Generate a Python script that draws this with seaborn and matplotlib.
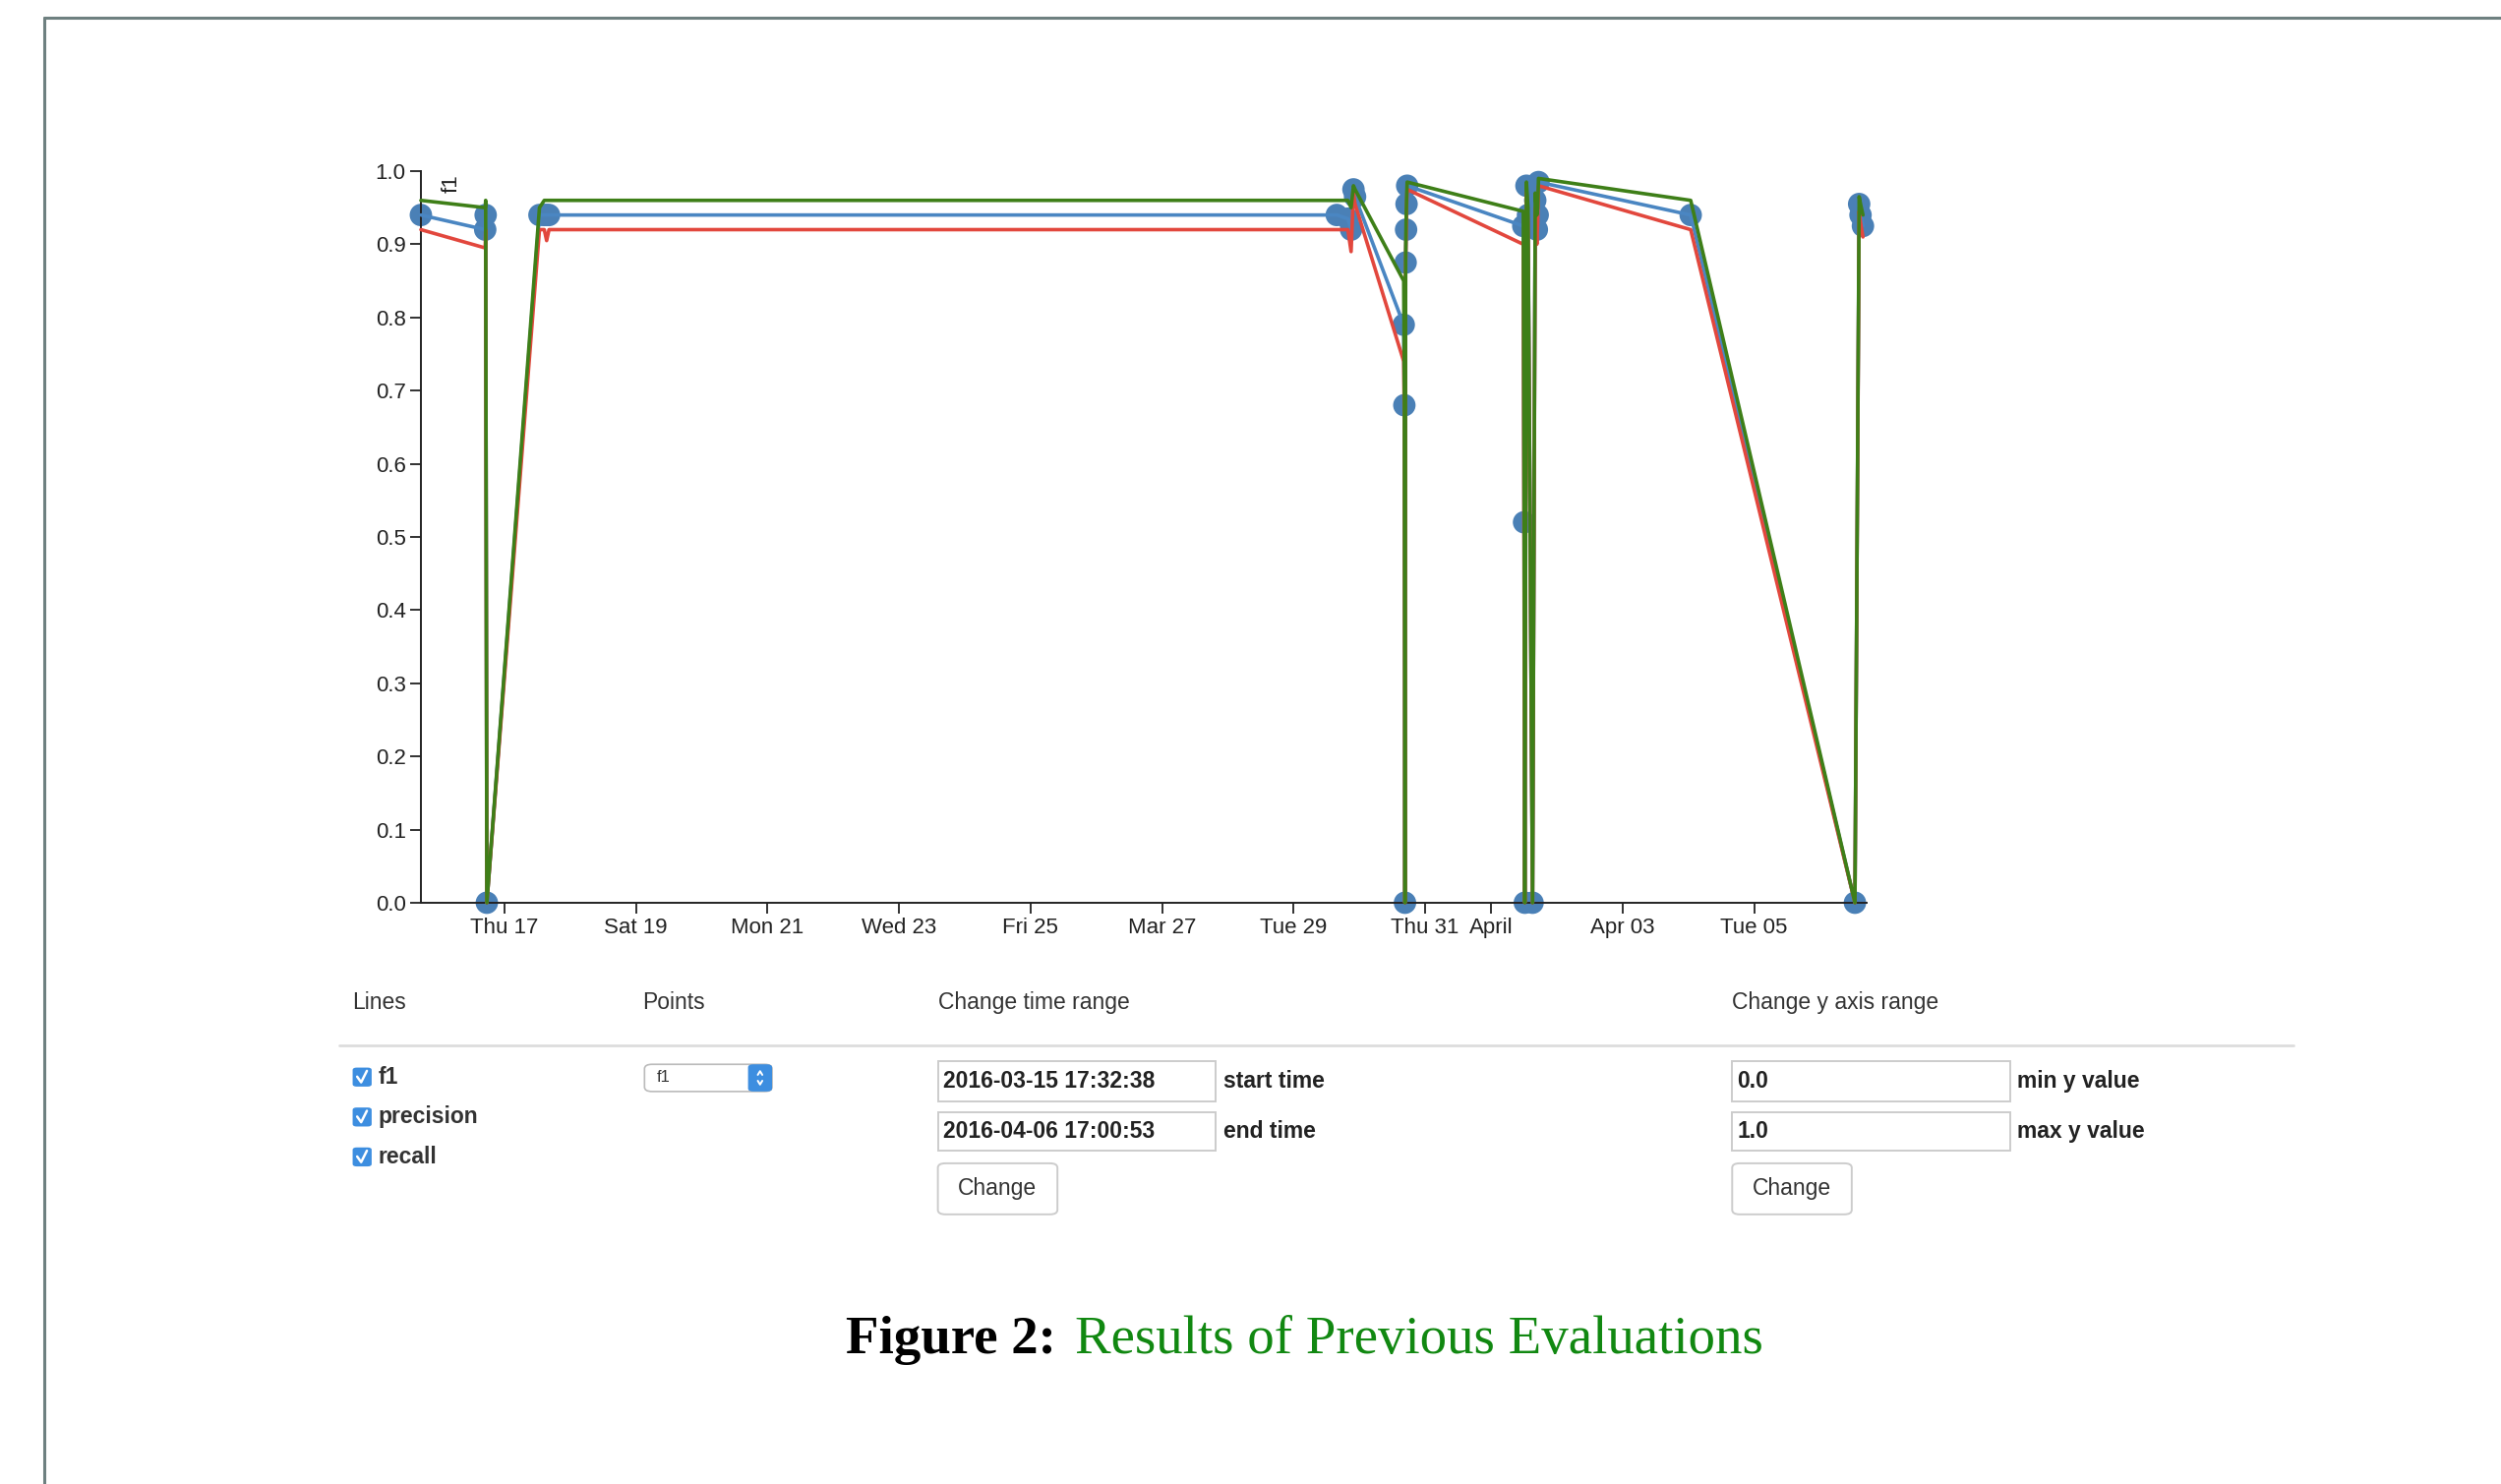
import matplotlib
matplotlib.use("Agg")
import matplotlib.pyplot as plt
from matplotlib.patches import FancyBboxPatch, Rectangle
from matplotlib.lines import Line2D
import numpy as np
import pandas as pd
import seaborn as sns

# evaluation runs
times = ["2016-03-15 17:32", "2016-03-16 17:00", "2016-03-16 17:10", "2016-03-16 17:36",
         "2016-03-17 12:48", "2016-03-17 14:33", "2016-03-17 15:25", "2016-03-17 16:17",
         "2016-03-29 15:43", "2016-03-29 19:47", "2016-03-29 20:57", "2016-03-29 21:49",
         "2016-03-29 22:24", "2016-03-30 16:09", "2016-03-30 16:23", "2016-03-30 16:37",
         "2016-03-30 16:51", "2016-03-30 17:01", "2016-03-30 17:11", "2016-03-30 17:25",
         "2016-04-01 11:47", "2016-04-01 12:04", "2016-04-01 12:21", "2016-04-01 12:56",
         "2016-04-01 13:30", "2016-04-01 15:10", "2016-04-01 16:09", "2016-04-01 16:44",
         "2016-04-01 17:02", "2016-04-01 17:20", "2016-04-04 00:52", "2016-04-06 12:48",
         "2016-04-06 14:20", "2016-04-06 14:50", "2016-04-06 15:43"]
f1 = [0.94, 0.92, 0.94, 0.0, 0.94, 0.94, 0.94, 0.94,
      0.94, 0.935, 0.92, 0.975, 0.965, 0.79, 0.68, 0.0,
      0.875, 0.92, 0.955, 0.98, 0.925, 0.52, 0.0, 0.98,
      0.94, 0.0, 0.96, 0.92, 0.94, 0.985, 0.94, 0.0,
      0.955, 0.94, 0.925]
precision = [0.96, 0.95, 0.96, 0.0, 0.95, 0.96, 0.96, 0.96,
             0.96, 0.96, 0.95, 0.98, 0.975, 0.85, 0.70, 0.0,
             0.88, 0.93, 0.96, 0.985, 0.945, 0.60, 0.0, 0.985,
             0.95, 0.0, 0.97, 0.94, 0.95, 0.99, 0.96, 0.0,
             0.965, 0.955, 0.94]
recall = [0.92, 0.895, 0.92, 0.0, 0.92, 0.92, 0.905, 0.92,
          0.92, 0.92, 0.89, 0.97, 0.955, 0.74, 0.66, 0.0,
          0.87, 0.91, 0.95, 0.975, 0.90, 0.45, 0.0, 0.975,
          0.93, 0.0, 0.95, 0.90, 0.93, 0.98, 0.92, 0.0,
          0.945, 0.93, 0.91]

tick_days = ["2016-03-17", "2016-03-19", "2016-03-21", "2016-03-23", "2016-03-25", "2016-03-27",
             "2016-03-29", "2016-03-31", "2016-04-01", "2016-04-03", "2016-04-05"]
tick_names = ["Thu 17", "Sat 19", "Mon 21", "Wed 23", "Fri 25", "Mar 27",
              "Tue 29", "Thu 31", "April", "Apr 03", "Tue 05"]
start_time = "2016-03-15 17:32:38"
end_time = "2016-04-06 17:00:53"

df = pd.DataFrame({"time": pd.to_datetime(times), "f1": f1,
                   "precision": precision, "recall": recall})
long = df.melt(id_vars="time", var_name="metric", value_name="value")

sns.set_style("ticks")
plt.rcParams["font.family"] = ["Liberation Sans", "DejaVu Sans"]

fig = plt.figure(figsize=(25.43, 15.09), dpi=100)
ax = fig.add_axes([0.1683, 0.3917, 0.5780, 0.4930])

sns.scatterplot(data=df, x="time", y="f1", ax=ax, s=270, color="#4a80b6",
                edgecolor="none", zorder=2, legend=False, clip_on=False)
pal = {"f1": "#4a86c2", "recall": "#e2473d", "precision": "#3e7f18"}
sns.lineplot(data=long, x="time", y="value", hue="metric", hue_order=["f1", "recall", "precision"],
             palette=pal, estimator=None, sort=False, lw=2.6, ax=ax, legend=False, zorder=3)
for ln in ax.lines:
    ln.set_clip_on(False)

ax.set_xlim(pd.Timestamp(start_time), pd.Timestamp(end_time))
ax.set_ylim(0, 1)
ax.set_xticks(pd.to_datetime(tick_days))
ax.set_xticklabels(tick_names)
ax.set_yticks(np.arange(0, 1.01, 0.1))
ax.set_yticklabels([f"{v:.1f}" for v in np.arange(0, 1.01, 0.1)])
ax.tick_params(axis="both", length=8, width=1.3, labelsize=16, colors="#222222", pad=3)
for s in ["top", "right"]:
    ax.spines[s].set_visible(False)
for s in ["left", "bottom"]:
    ax.spines[s].set_linewidth(1.4)
    ax.spines[s].set_color("#222222")
ax.set_xlabel("")
ax.set_ylabel("")
ax.text(0.021, 0.995, "f1", rotation=90, ha="center", va="top", fontsize=16,
        color="#222222", transform=ax.transAxes)

# page frame
fig.add_artist(Line2D([0.0177, 0.0177], [0, 0.988], color="#6e8080", lw=2.2))
fig.add_artist(Line2D([0.0177, 1.0], [0.988, 0.988], color="#6e8080", lw=2.2))

# controls below the chart
txt = "#333333"
fs = 16.5
fig.text(0.1409, 0.3247, "Lines", fontsize=fs, color=txt, va="center")
fig.text(0.2570, 0.3247, "Points", fontsize=fs, color=txt, va="center")
fig.text(0.3750, 0.3247, "Change time range", fontsize=fs, color=txt, va="center")
fig.text(0.6926, 0.3247, "Change y axis range", fontsize=fs, color=txt, va="center")
fig.add_artist(Line2D([0.1358, 0.9171], [0.2957, 0.2957], color="#dddddd", lw=2))

for yy, name in zip([0.2742, 0.2473, 0.2204], ["f1", "precision", "recall"]):
    fig.add_artist(FancyBboxPatch((0.1448 - 0.0038, yy - 0.0064), 0.0076, 0.0128,
                                  boxstyle="round,pad=0,rounding_size=0.0016",
                                  transform=fig.transFigure, fc="#3d8ee0", ec="none"))
    fig.add_artist(Line2D([0.1428, 0.1444, 0.1467], [yy + 0.0003, yy - 0.0035, yy + 0.0042],
                          color="white", lw=1.8))
    fig.text(0.1511, yy, name, fontsize=fs, color=txt, va="center", fontweight="bold")

# select box with its up/down stepper
fig.add_artist(FancyBboxPatch((0.2577, 0.2645), 0.0510, 0.0183,
                              boxstyle="round,pad=0,rounding_size=0.003",
                              transform=fig.transFigure, fc="white", ec="#bbbbbb", lw=1.2))
fig.add_artist(FancyBboxPatch((0.2991, 0.2645), 0.0096, 0.0183,
                              boxstyle="round,pad=0,rounding_size=0.002",
                              transform=fig.transFigure, fc="#3d8ee0", ec="none"))
fig.add_artist(Line2D([0.3030, 0.3039, 0.3048], [0.2757, 0.2782, 0.2757], color="white", lw=1.4))
fig.add_artist(Line2D([0.3030, 0.3039, 0.3048], [0.2717, 0.2692, 0.2717], color="white", lw=1.4))
fig.text(0.2625, 0.2737, "f1", fontsize=12, color=txt, va="center")


def input_box(x0, y0, w, h, value, label):
    fig.add_artist(Rectangle((x0, y0), w, h, transform=fig.transFigure,
                             fc="white", ec="#cccccc", lw=1.4))
    fig.text(x0 + 0.0020, y0 + h / 2, value, fontsize=fs, color="#222222",
             va="center", fontweight="bold")
    fig.text(x0 + w + 0.0030, y0 + h / 2, label, fontsize=fs, color="#222222",
             va="center", fontweight="bold")


def button(x0, y0, w, h):
    fig.add_artist(FancyBboxPatch((x0, y0), w, h, boxstyle="round,pad=0,rounding_size=0.003",
                                  transform=fig.transFigure, fc="white", ec="#cccccc", lw=1.4))
    fig.text(x0 + w / 2, y0 + h / 2, "Change", fontsize=fs, color=txt, ha="center", va="center")


input_box(0.3750, 0.2581, 0.1110, 0.0268, start_time, "start time")
input_box(0.3750, 0.2247, 0.1110, 0.0258, end_time, "end time")
button(0.3750, 0.1817, 0.0478, 0.0344)
input_box(0.6926, 0.2581, 0.1110, 0.0268, "0.0", "min y value")
input_box(0.6926, 0.2247, 0.1110, 0.0258, "1.0", "max y value")
button(0.6926, 0.1817, 0.0478, 0.0344)

# caption
fig.text(0.4222, 0.0968, "Figure 2:", fontsize=39.5, family="Liberation Serif",
         fontweight="bold", color="black", ha="right", va="center")
fig.text(0.4298, 0.0968, "Results of Previous Evaluations", fontsize=39.5,
         family="Liberation Serif", color="#118811", ha="left", va="center")

fig.savefig("out.png", dpi=100)
